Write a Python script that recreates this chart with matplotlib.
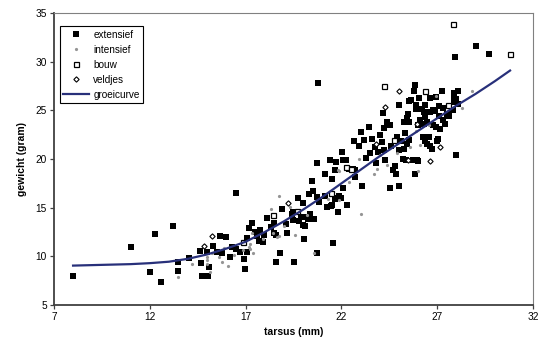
import matplotlib
matplotlib.use('Agg')
import matplotlib.pyplot as plt

plt.rcParams['font.family'] = ['Liberation Sans', 'DejaVu Sans']

# groeicurve
curve_x = [8, 9, 10, 11, 12, 13, 14, 15, 16, 17, 18, 19, 20, 21, 22, 23, 24, 25, 26, 27, 28, 29, 30, 30.8]
curve_y = [9.05, 9.1, 9.15, 9.2, 9.3, 9.45, 9.75, 10.2, 10.8, 11.5, 12.5, 13.6, 14.8, 16.1, 17.5,
           18.9, 20.3, 21.6, 22.9, 24.2, 25.5, 26.7, 28.0, 29.1]

# extensief (black squares)
ext_x = [8.0, 11.0, 12.0, 12.3, 12.6, 13.2, 13.5, 13.5, 14.05, 14.6, 14.65, 14.75, 15.0, 15.05, 15.1,
         15.3, 15.5, 15.65, 15.75, 16.0, 16.2, 16.3, 16.5, 16.5, 16.7, 16.9, 16.95, 17.05, 17.05, 17.35,
         17.5, 17.6, 17.7, 17.75, 17.9, 17.95, 18.35, 18.5, 18.5, 18.6, 18.6, 18.8, 19.15, 19.4, 19.45,
         19.5, 19.55, 19.75, 19.8, 19.9, 20.0, 20.0, 20.05, 20.1, 20.1, 20.25, 20.35, 20.45, 20.5, 20.55,
         20.75, 20.75, 20.75, 20.8, 20.85, 21.15, 21.15, 21.25, 21.4, 21.45, 21.5, 21.5, 21.55, 21.65, 21.65,
         21.7, 21.7, 21.8, 21.9, 22.0, 22.05, 22.1, 22.1, 22.25, 22.3, 22.6, 22.65, 22.7, 22.7, 23.0,
         23.05, 23.3, 23.45, 23.5, 23.6, 23.75, 23.9, 24.1, 24.15, 24.2, 24.2, 24.25, 24.4, 24.55, 24.55,
         24.7, 24.8, 24.85, 24.9, 25.0, 25.0, 25.0, 25.1, 25.2, 25.25, 25.25, 25.35, 25.4, 25.4, 25.5,
         25.55, 25.55, 25.55, 25.65, 25.75, 25.8, 25.85, 25.85, 25.9, 25.9, 25.95, 26.0, 26.0, 26.05, 26.2,
         26.25, 26.3, 26.3, 26.35, 26.35, 26.35, 26.45, 26.45, 26.55, 26.6, 26.6, 26.6, 26.75, 26.8, 26.8,
         26.95, 26.95, 27.0, 27.05, 27.1, 27.1, 27.15, 27.25, 27.3, 27.3, 27.4, 27.5, 27.8, 27.85, 27.85,
         27.9, 27.95, 28.0, 28.0, 28.1, 28.1, 29.0, 29.7,
         17.2, 18.1, 18.9, 19.1, 20.3, 22.4, 22.9, 23.2, 24.0, 24.6, 25.3, 26.1, 26.9, 27.6, 23.8]
ext_y = [8.0, 11.0, 8.4, 12.25, 7.4, 13.1, 9.45, 8.5, 9.8, 10.6, 9.35, 8.0, 10.4, 8.0, 8.9,
         11.05, 10.4, 12.1, 10.3, 11.95, 9.95, 11.0, 10.8, 16.5, 10.4, 9.7, 8.65, 10.4, 11.9, 13.45,
         12.5, 12.1, 11.6, 12.7, 11.45, 12.2, 13.0, 13.45, 12.4, 12.2, 9.45, 10.3, 12.35, 14.4, 13.7,
         14.6, 9.45, 15.95, 13.65, 14.0, 15.45, 13.2, 11.75, 14.05, 13.1, 13.8, 14.4, 17.75, 16.75, 13.8,
         19.55, 16.1, 10.3, 27.8, 15.6, 18.5, 16.2, 15.1, 19.95, 15.15, 18.0, 15.25, 11.4, 15.85, 18.85,
         19.65, 15.95, 14.6, 16.2, 15.95, 20.75, 19.95, 17.0, 19.95, 15.25, 18.95, 21.85, 18.85, 18.2, 22.8,
         17.2, 20.15, 23.25, 20.6, 22.1, 21.25, 20.75, 21.8, 24.75, 23.15, 20.9, 19.95, 23.85, 23.5, 17.0,
         18.85, 19.25, 18.5, 22.3, 25.55, 20.9, 17.2, 21.85, 20.05, 23.85, 21.0, 19.95, 24.2, 21.55, 24.6,
         26.0, 23.85, 21.95, 26.05, 19.95, 27.0, 27.6, 18.5, 25.55, 25.1, 19.9, 23.5, 19.8, 26.25, 25.1,
         22.3, 24.85, 23.65, 25.55, 24.35, 21.85, 23.85, 21.55, 22.3, 26.25, 24.85, 21.35, 21.0, 25.0, 23.5,
         26.35, 23.3, 21.85, 22.1, 25.45, 24.4, 23.05, 27.0, 25.2, 24.0, 23.65, 24.6, 25.0, 26.8, 25.9,
         26.35, 30.45, 26.15, 20.4, 27.0, 25.7, 31.6, 30.8,
         12.9, 13.9, 14.9, 13.3, 16.4, 19.0, 21.3, 22.0, 22.5, 21.3, 22.7, 24.0, 24.9, 24.4, 19.6]

# intensief (grey dots)
int_x = [13.5, 14.2, 15.0, 15.0, 15.0, 15.15, 15.25, 15.6, 15.75, 15.85, 16.1, 16.85, 16.9, 17.2, 17.25,
         17.25, 17.35, 17.4, 18.35, 18.45, 18.65, 18.75, 18.75, 19.3, 19.6, 20.55, 21.8, 21.9, 21.9, 22.9,
         23.0, 23.7, 23.85, 24.0, 24.4, 25.9, 26.0, 26.1, 26.55, 26.95, 28.3, 28.8,
         16.4, 17.9, 19.0, 20.2, 21.3, 22.4, 24.9, 25.6]
int_y = [7.9, 9.2, 9.95, 9.2, 9.6, 8.4, 10.3, 9.9, 9.45, 10.9, 9.0, 10.65, 11.4, 11.0, 11.25,
         10.8, 12.35, 10.3, 14.9, 12.35, 12.0, 16.2, 12.1, 15.1, 12.15, 10.35, 18.85, 18.8, 15.8, 20.05,
         14.4, 18.45, 18.95, 20.4, 19.4, 22.9, 18.8, 21.45, 23.5, 26.5, 25.3, 27.0,
         10.1, 11.8, 13.1, 14.3, 15.9, 17.6, 20.6, 21.2]

# bouw (open squares)
bouw_x = [16.85, 18.45, 19.7, 21.45, 22.25, 22.5, 24.2, 24.75, 26.35, 27.55, 27.8, 30.8]
bouw_y = [11.45, 14.2, 14.65, 16.5, 19.15, 18.95, 27.5, 22.0, 27.0, 25.55, 33.9, 30.8]

# veldjes (open diamonds)
veld_x = [14.85, 15.25, 19.2, 23.8, 24.3, 25.0, 25.5, 25.95, 26.6, 27.15]
veld_y = [11.1, 12.1, 15.5, 21.55, 25.35, 27.0, 19.95, 23.6, 19.8, 21.2]

fig = plt.figure(figsize=(5.39, 3.46), dpi=100)
ax = fig.add_axes([0.100, 0.1185, 0.889, 0.8435])

ax.plot(ext_x, ext_y, 's', color='black', markersize=3.7, markeredgewidth=0, label='extensief', zorder=2)
ax.plot(int_x, int_y, 'o', color='#959595', markersize=2.3, markeredgewidth=0, label='intensief', zorder=2)
ax.plot(bouw_x, bouw_y, 's', markerfacecolor='white', markeredgecolor='black', markersize=3.6,
        markeredgewidth=0.9, label='bouw', zorder=2)
ax.plot(veld_x, veld_y, 'D', markerfacecolor='white', markeredgecolor='black', markersize=2.7,
        markeredgewidth=0.8, label='veldjes', zorder=2)
ax.plot(curve_x, curve_y, '-', color='#28307a', linewidth=1.6, label='groeicurve', zorder=3)

ax.set_xlim(7, 32)
ax.set_ylim(5, 35)
ax.set_xticks([7, 12, 17, 22, 27, 32])
ax.set_yticks([5, 10, 15, 20, 25, 30, 35])

for side in ['left', 'bottom']:
    ax.spines[side].set_color('#404040')
    ax.spines[side].set_linewidth(1.3)
for side in ['top', 'right']:
    ax.spines[side].set_color('#808080')
    ax.spines[side].set_linewidth(0.8)

ax.tick_params(direction='out', length=3, width=0.9, color='#404040', labelsize=7.3, pad=2)

ax.set_xlabel('tarsus (mm)', fontsize=7.5, fontweight='bold', labelpad=4)
ax.set_ylabel('gewicht (gram)', fontsize=7.5, fontweight='bold', labelpad=6)

leg = ax.legend(loc='upper left', bbox_to_anchor=(0.0125, 0.955), borderaxespad=0, fontsize=7.2,
                frameon=True, fancybox=False, edgecolor='black', framealpha=1, handlelength=2.6,
                handletextpad=0.4, labelspacing=0.5, borderpad=0.35, numpoints=1)
leg.get_frame().set_linewidth(0.8)

fig.savefig('out.png', dpi=100)
